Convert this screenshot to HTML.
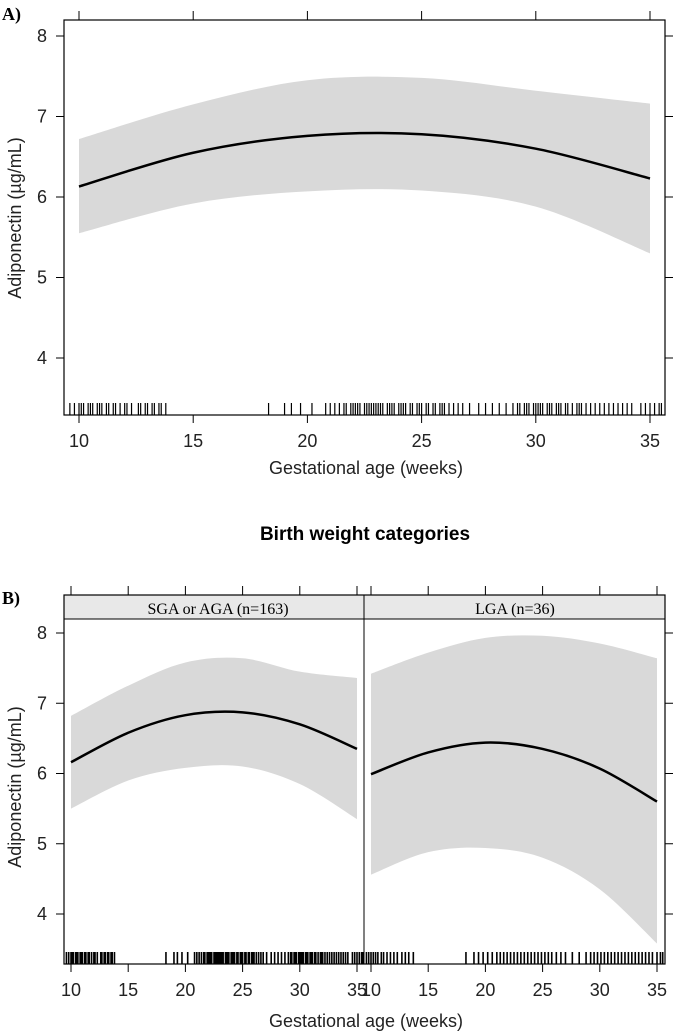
<!DOCTYPE html>
<html><head><meta charset="utf-8">
<style>
html,body{margin:0;padding:0;background:#fff;}
svg{display:block;font-family:"Liberation Sans",sans-serif;}
.lbl{font-size:18px;fill:#222;}
.serif{font-family:"Liberation Serif",serif;}
</style></head>
<body>
<svg id="chart" width="675" height="1033" viewBox="0 0 675 1033">
<text x="2" y="20" class="serif" font-size="18" font-weight="bold">A)</text>
<text x="2" y="604" class="serif" font-size="18" font-weight="bold">B)</text>
<text x="365" y="540" text-anchor="middle" font-size="19" font-weight="bold">Birth weight categories</text>
<text x="366" y="474" text-anchor="middle" class="lbl" font-size="19">Gestational age (weeks)</text>
<text x="366" y="1027" text-anchor="middle" class="lbl" font-size="19">Gestational age (weeks)</text>
<text transform="translate(21,218) rotate(-90)" text-anchor="middle" class="lbl" font-size="19">Adiponectin (µg/mL)</text>
<text transform="translate(21,787) rotate(-90)" text-anchor="middle" class="lbl" font-size="19">Adiponectin (µg/mL)</text>
<g id="g"></g>
</svg>
<script>
const xTicks=[10,15,20,25,30,35];
const yTicks=[4,5,6,7,8];
const xs=[10,15,20,25,30,35];
const fitA=[6.13,6.55,6.76,6.78,6.60,6.23];
const upA=[6.72,7.15,7.45,7.48,7.32,7.16];
const loA=[5.55,5.92,6.07,6.08,5.88,5.30];
const fitB1=[6.16,6.58,6.83,6.87,6.70,6.35];
const upB1=[6.82,7.25,7.58,7.64,7.45,7.36];
const loB1=[5.50,5.90,6.08,6.10,5.85,5.35];
const fitB2=[5.99,6.30,6.44,6.35,6.07,5.60];
const upB2=[7.42,7.72,7.93,7.96,7.85,7.64];
const loB2=[4.56,4.88,4.94,4.80,4.35,3.58];
const rugAll=[9.6,9.8,10,10.1,10.2,10.4,10.5,10.6,10.8,10.9,11,11.2,11.3,11.5,11.6,11.8,12,12.1,12.3,12.6,12.7,12.9,13,13.2,13.3,13.5,13.6,13.8,18.3,19,19.3,19.7,20.2,20.8,21,21.2,21.4,21.6,21.7,21.9,22,22.1,22.2,22.3,22.5,22.6,22.7,22.8,22.9,23,23.1,23.2,23.3,23.5,23.6,23.7,23.8,24,24.1,24.2,24.3,24.5,24.6,24.8,24.9,25,25.2,25.3,25.5,25.6,25.8,25.9,26,26.2,26.4,26.6,26.8,27.1,27.5,27.8,28.1,28.4,28.7,29,29.2,29.3,29.5,29.6,29.7,29.9,30,30.1,30.2,30.3,30.5,30.6,30.7,30.9,31,31.1,31.3,31.4,31.6,31.8,31.9,32,32.2,32.4,32.6,32.8,33,33.2,33.4,33.6,33.8,34,34.2,34.6,34.8,35,35.2,35.4,35.5];
const rugLGA=[9.6,9.8,10,10.2,10.4,10.6,10.9,11.1,11.4,11.7,12,12.3,12.7,13,13.3,13.7,18.3,19,19.4,19.8,20.2,20.6,21,21.3,21.6,21.9,22.2,22.5,22.8,23.1,23.4,23.7,24,24.3,24.6,24.9,25.2,25.5,25.8,26.2,26.6,27,27.6,28.2,28.8,29.2,29.5,29.8,30.1,30.4,30.7,31,31.3,31.6,31.9,32.2,32.5,32.8,33.1,33.4,33.7,34,34.3,34.6,35,35.3,35.5];
const NS='http://www.w3.org/2000/svg';
const G=document.getElementById('g');
function mk(tag,attrs,parent){const e=document.createElementNS(NS,tag);for(const k in attrs)e.setAttribute(k,attrs[k]);(parent||G).appendChild(e);return e;}
function spline(pts){let d='M'+pts[0][0]+','+pts[0][1];for(let i=0;i<pts.length-1;i++){const p0=pts[Math.max(i-1,0)],p1=pts[i],p2=pts[i+1],p3=pts[Math.min(i+2,pts.length-1)];const c1=[p1[0]+(p2[0]-p0[0])/6,p1[1]+(p2[1]-p0[1])/6],c2=[p2[0]-(p3[0]-p1[0])/6,p2[1]-(p3[1]-p1[1])/6];d+=' C'+c1+' '+c2+' '+p2;}return d;}
function panel(name,X,Y,fit,up,lo,rug,rugTop,rugBot,clipL,clipR,rw){
  const U=xs.map((x,i)=>[X(x),Y(up[i])]);
  const L=xs.map((x,i)=>[X(x),Y(lo[i])]).reverse();
  const band=spline(U)+' L'+L[0]+' '+spline(L).slice(1)+' Z';
  const b=mk('path',{d:band,fill:'#d9d9d9'});
  
  
  const l=mk('path',{d:spline(xs.map((x,i)=>[X(x),Y(fit[i])])),fill:'none',stroke:'#000','stroke-width':2.5});
  
  
  rug.forEach(v=>{const px=X(v);if(px<clipL||px>clipR)return;const r=mk('line',{x1:px,x2:px,y1:rugTop,y2:rugBot,stroke:'#000','stroke-width':rw});
    
    });
}
function axesX(X,ytop,ybot,labelY){
  xTicks.forEach(t=>{const px=X(t);
    mk('line',{x1:px,x2:px,y1:ybot,y2:ybot+8,stroke:'#000'});
    mk('line',{x1:px,x2:px,y1:ytop-9,y2:ytop,stroke:'#000'});
    const tx=mk('text',{x:px,y:labelY,'text-anchor':'middle',class:'lbl'});tx.textContent=t;
    
    });
}
function axesY(Y,left,right){
  yTicks.forEach(t=>{const py=Y(t);
    mk('line',{x1:left-8,x2:left,y1:py,y2:py,stroke:'#000'});
    mk('line',{x1:right,x2:right+8,y1:py,y2:py,stroke:'#000'});
    const tx=mk('text',{x:left-17,y:py+6,'text-anchor':'end',class:'lbl'});tx.textContent=t;
    
    });
}
// Panel A
const XA=v=>79+(v-10)*(571/25), YA=v=>358-(v-4)*80.5;
panel('panel-a',XA,YA,fitA,upA,loA,rugAll,403,415,65,664,1.2);
axesX(XA,20,415,447);axesY(YA,64,665);
const bA=mk('rect',{x:64,y:20,width:601,height:395,fill:'none',stroke:'#000','stroke-width':1.2});


// Panel B
const YB=v=>914-(v-4)*70.25;
const XB1=v=>71+(v-10)*(286/25), XB2=v=>371+(v-10)*(286/25);
panel('sga-aga',XB1,YB,fitB1,upB1,loB1,rugAll,952,964,65,363,1.6);
panel('lga',XB2,YB,fitB2,upB2,loB2,rugLGA,952,964,365,664,1.6);
axesX(XB1,595,964,996);axesX(XB2,595,964,996);axesY(YB,64,665);
const s1=mk('rect',{x:64,y:595,width:300,height:24,fill:'#e8e8e8',stroke:'#000'});


const s2=mk('rect',{x:364,y:595,width:301,height:24,fill:'#e8e8e8',stroke:'#000'});


const t1=mk('text',{x:218,y:614,'text-anchor':'middle',class:'serif','font-size':16});t1.textContent='SGA or AGA (n=163)';


const t2=mk('text',{x:515,y:614,'text-anchor':'middle',class:'serif','font-size':16});t2.textContent='LGA (n=36)';


const bB=mk('rect',{x:64,y:595,width:601,height:369,fill:'none',stroke:'#000','stroke-width':1.2});


const dv=mk('line',{x1:364,x2:364,y1:595,y2:964,stroke:'#000'});


</script>
</body></html>
